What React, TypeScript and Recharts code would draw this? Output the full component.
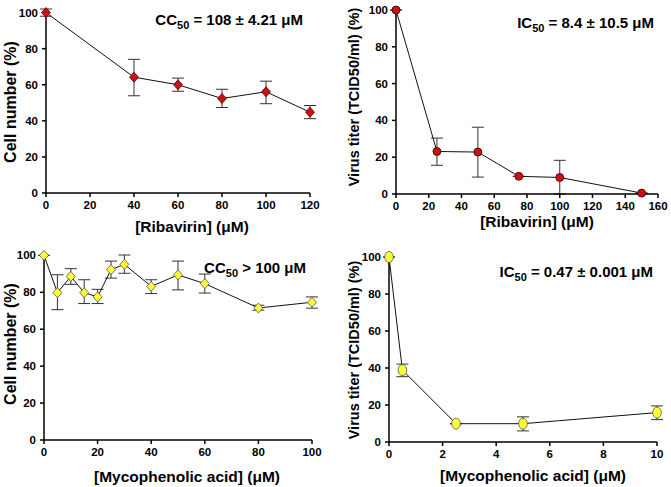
import { LineChart, Line, XAxis, YAxis, ErrorBar } from "recharts";

const FONT = '"Liberation Sans", Arial, sans-serif';

// top-left: ribavirin cytotoxicity
const ribaCellDose = [0, 40, 60, 80, 100, 120];
const ribaCellValue = [100, 64.2, 60, 52.4, 56.1, 44.8];
const ribaCellErr = [[2, 2], [10.3, 9.9], [3.6, 3.7], [5, 5.1], [6.6, 5.9], [3.6, 3.7]];

// top-right: ribavirin virus titer
const ribaVirDose = [0, 25, 50, 75, 100, 150];
const ribaVirValue = [100, 23.1, 22.8, 9.6, 9, 0.5];
const ribaVirErr = [[0, 0], [7.5, 7.3], [13.6, 13.5], [0, 0], [9, 9.3], [0, 0]];

// bottom-left: mycophenolic acid cytotoxicity
const mpaCellDose = [0, 5, 10, 15, 20, 25, 30, 40, 50, 60, 80, 100];
const mpaCellValue = [100, 79.8, 88.6, 79.8, 77.5, 92.3, 95.1, 83.2, 89.4, 84.7, 71.5, 74.6];
const mpaCellErr = [
  [0, 0], [9.2, 9.7], [4.3, 4.2], [5.9, 7], [3.6, 4.1], [4.6, 4.6],
  [4.8, 5.1], [3.9, 3.6], [8.1, 7.5], [5.1, 5.2], [1.2, 1.5], [3.2, 2.9],
];

// bottom-right: mycophenolic acid virus titer
const mpaVirDose = [0, 0.5, 2.5, 5, 10];
const mpaVirValue = [100, 38.9, 9.9, 9.9, 15.9];
const mpaVirErr = [[0, 0], [3.6, 3.2], [0, 0], [3.9, 3.7], [3.8, 3.6]];

const percentTicks = [0, 20, 40, 60, 80, 100];

const toRows = (xs: number[], ys: number[], errs: number[][]) =>
  xs.map((x, i) => ({ x, y: ys[i], err: errs[i] }));

type Shape = "diamond" | "circle" | "ellipse";

function Marker({ cx, cy, shape, fill }: { cx: number; cy: number; shape: Shape; fill: string }) {
  if (cx == null || cy == null) return null;
  if (shape === "diamond") {
    return (
      <polygon
        points={`${cx},${cy - 5} ${cx + 4.5},${cy} ${cx},${cy + 5} ${cx - 4.5},${cy}`}
        fill={fill}
        stroke={fill === "#ffff33" ? "#555" : "#5a0000"}
        strokeWidth={0.8}
      />
    );
  }
  if (shape === "ellipse") {
    return <ellipse cx={cx} cy={cy} rx={4.3} ry={5.5} fill={fill} stroke="#555" strokeWidth={0.8} />;
  }
  return <circle cx={cx} cy={cy} r={4} fill={fill} stroke="#3a0000" strokeWidth={0.8} />;
}

interface PanelProps {
  left: number;
  top: number;
  width: number;
  height: number;
  yAxisWidth: number;
  margin: { top: number; right: number; bottom: number };
  rows: { x: number; y: number; err: number[] }[];
  xTicks: number[];
  shape: Shape;
  fill: string;
  xLabel: string;
  xLabelPos: [number, number];
  yLabel: string;
  yLabelPos: [number, number];
  yLabelSize: number;
  titleMain: string;
  titleRest: string;
  titlePos: [number, number];
}

function Panel(p: PanelProps) {
  const tick = { fill: "#000", fontSize: 11.5, fontWeight: "bold", fontFamily: FONT };
  return (
    <div style={{ position: "absolute", left: p.left, top: p.top }}>
      <LineChart
        width={p.width}
        height={p.height}
        data={p.rows}
        margin={{ top: p.margin.top, right: p.margin.right, bottom: p.margin.bottom, left: 0 }}
      >
        <XAxis
          type="number"
          dataKey="x"
          domain={[0, p.xTicks[p.xTicks.length - 1]]}
          ticks={p.xTicks}
          height={30}
          tick={tick}
          tickSize={4}
          tickMargin={4}
          stroke="#000"
          strokeWidth={1.5}
          interval={0}
        />
        <YAxis
          type="number"
          domain={[0, 100]}
          ticks={percentTicks}
          width={p.yAxisWidth}
          tick={tick}
          tickSize={4}
          tickMargin={4}
          stroke="#000"
          strokeWidth={1.5}
          interval={0}
        />
        <Line
          type="linear"
          dataKey="y"
          stroke="#111"
          strokeWidth={1}
          isAnimationActive={false}
          dot={(d: any) => (
            <Marker key={`m-${d.index}`} cx={d.cx} cy={d.cy} shape={p.shape} fill={p.fill} />
          )}
          activeDot={false}
        >
          <ErrorBar dataKey="err" direction="y" width={6} stroke="#333" strokeWidth={1} />
        </Line>
        <text
          x={p.xLabelPos[0]}
          y={p.xLabelPos[1]}
          textAnchor="middle"
          dominantBaseline="central"
          fontFamily={FONT}
          fontWeight="bold"
          fontSize={15.5}
          fill="#000"
        >
          {p.xLabel}
        </text>
        <text
          x={p.yLabelPos[0]}
          y={p.yLabelPos[1]}
          transform={`rotate(-90 ${p.yLabelPos[0]} ${p.yLabelPos[1]})`}
          textAnchor="middle"
          dominantBaseline="central"
          fontFamily={FONT}
          fontWeight="bold"
          fontSize={p.yLabelSize}
          fill="#000"
        >
          {p.yLabel}
        </text>
        <text
          x={p.titlePos[0]}
          y={p.titlePos[1]}
          textAnchor="end"
          fontFamily={FONT}
          fontWeight="bold"
          fontSize={15}
          fill="#000"
        >
          {p.titleMain}
          <tspan fontSize={11} dy={4}>50</tspan>
          <tspan dy={-4}>{p.titleRest}</tspan>
        </text>
      </LineChart>
    </div>
  );
}

export default function App() {
  return (
    <div
      style={{
        position: "absolute",
        left: 0,
        top: 0,
        width: 671,
        height: 487,
        background: "#fff",
        overflow: "hidden",
      }}
    >
      <Panel
        left={0}
        top={0}
        width={335}
        height={240}
        yAxisWidth={46}
        margin={{ top: 9, right: 25, bottom: 17 }}
        rows={toRows(ribaCellDose, ribaCellValue, ribaCellErr)}
        xTicks={[0, 20, 40, 60, 80, 100, 120]}
        shape="diamond"
        fill="#cc1111"
        xLabel="[Ribavirin] (μM)"
        xLabelPos={[192, 226]}
        yLabel="Cell number (%)"
        yLabelPos={[10, 102]}
        yLabelSize={16}
        titleMain="CC"
        titleRest=" = 108 ± 4.21 μM"
        titlePos={[303, 25]}
      />
      <Panel
        left={335}
        top={0}
        width={336}
        height={240}
        yAxisWidth={61}
        margin={{ top: 10, right: 13, bottom: 16 }}
        rows={toRows(ribaVirDose, ribaVirValue, ribaVirErr)}
        xTicks={[0, 20, 40, 60, 80, 100, 120, 140, 160]}
        shape="circle"
        fill="#cc1111"
        xLabel="[Ribavirin] (μM)"
        xLabelPos={[202, 221]}
        yLabel="Virus titer (TCID50/ml) (%)"
        yLabelPos={[19, 97]}
        yLabelSize={14.5}
        titleMain="IC"
        titleRest=" = 8.4 ± 10.5 μM"
        titlePos={[319, 28]}
      />
      <Panel
        left={0}
        top={240}
        width={335}
        height={247}
        yAxisWidth={44}
        margin={{ top: 15, right: 23, bottom: 17 }}
        rows={toRows(mpaCellDose, mpaCellValue, mpaCellErr)}
        xTicks={[0, 20, 40, 60, 80, 100]}
        shape="diamond"
        fill="#ffff33"
        xLabel="[Mycophenolic acid] (μM)"
        xLabelPos={[187, 236]}
        yLabel="Cell number (%)"
        yLabelPos={[10, 104]}
        yLabelSize={16}
        titleMain="CC"
        titleRest=" > 100 μM"
        titlePos={[306, 33]}
      />
      <Panel
        left={335}
        top={240}
        width={336}
        height={247}
        yAxisWidth={54}
        margin={{ top: 17, right: 14, bottom: 15 }}
        rows={toRows(mpaVirDose, mpaVirValue, mpaVirErr)}
        xTicks={[0, 2, 4, 6, 8, 10]}
        shape="ellipse"
        fill="#ffff33"
        xLabel="[Mycophenolic acid] (μM)"
        xLabelPos={[198, 235]}
        yLabel="Virus titer (TCID50/ml) (%)"
        yLabelPos={[19, 110]}
        yLabelSize={14.5}
        titleMain="IC"
        titleRest=" = 0.47 ± 0.001 μM"
        titlePos={[318, 37]}
      />
    </div>
  );
}
